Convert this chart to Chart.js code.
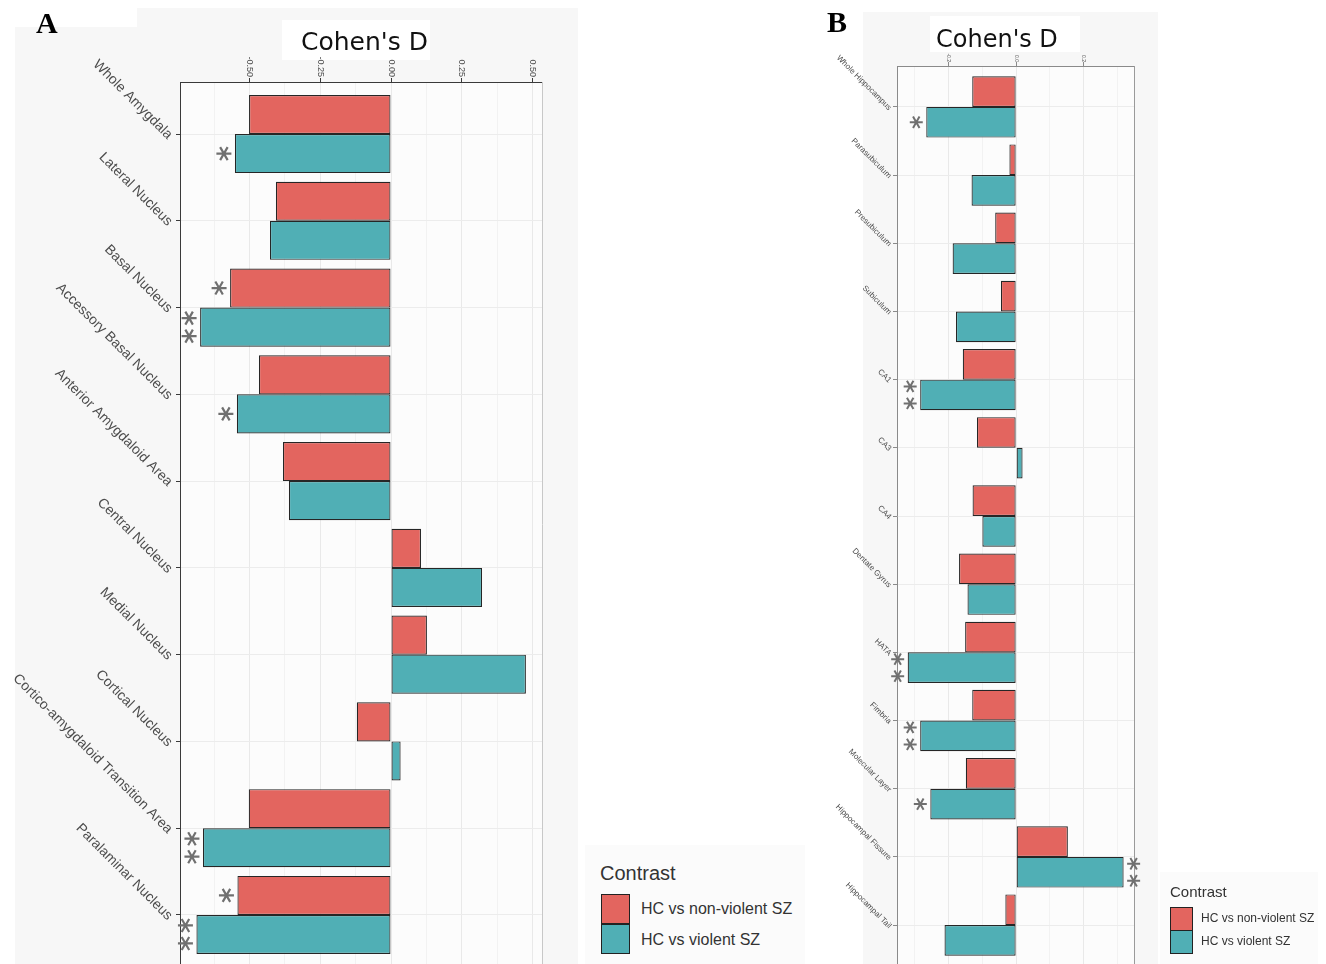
<!DOCTYPE html>
<html><head><meta charset="utf-8">
<script src="https://cdn.jsdelivr.net/npm/chart.js@4.4.0/dist/chart.umd.min.js"></script>
<style>
html,body{margin:0;padding:0;background:#fff;width:1326px;height:964px;overflow:hidden;position:relative;font-family:'Liberation Sans',Arial,sans-serif}
.abs{position:absolute}
.title{font-family:'DejaVu Sans',sans-serif;color:#111;white-space:nowrap}
.letter{font-family:'Liberation Serif','Times New Roman',serif;font-weight:bold;color:#000}
.key{position:absolute;box-sizing:border-box;border:1.5px solid #222}
.lt{position:absolute;color:#333;white-space:nowrap}
</style></head><body>
<!-- panel backgrounds -->
<div class="abs" style="left:137px;top:8px;width:441px;height:956px;background:#f7f7f7"></div>
<div class="abs" style="left:15px;top:27px;width:122px;height:937px;background:#f7f7f7"></div>
<div class="abs" style="left:282px;top:20px;width:148px;height:40px;background:#fff"></div>
<div class="abs" style="left:863px;top:12px;width:295px;height:952px;background:#f7f7f7"></div>
<div class="abs" style="left:930px;top:16px;width:150px;height:36px;background:#fff"></div>
<div class="abs" style="left:585px;top:845px;width:220px;height:119px;background:#fbfbfb"></div>
<div class="abs" style="left:1160px;top:872px;width:158px;height:92px;background:#fbfbfb"></div>

<canvas id="cA" class="abs" style="left:0;top:0" width="580" height="975"></canvas>
<canvas id="cB" class="abs" style="left:820px;top:0" width="506" height="975"></canvas>

<div class="abs letter" style="left:36px;top:6px;font-size:30px;line-height:34px">A</div>
<div class="abs letter" style="left:827px;top:5px;font-size:30px;line-height:34px">B</div>
<div class="abs title" style="left:301px;top:27px;font-size:25px;line-height:30px">Cohen's D</div>
<div class="abs title" style="left:936px;top:24px;font-size:24px;line-height:30px">Cohen's D</div>

<!-- legend A -->
<div class="lt" style="left:600px;top:861px;font-size:20px;line-height:24px">Contrast</div>
<div class="key" style="left:601px;top:894px;width:29px;height:30px;background:#e3655f"></div>
<div class="key" style="left:601px;top:924px;width:29px;height:30px;background:#50afb5"></div>
<div class="lt" style="left:641px;top:899px;font-size:16px;line-height:20px">HC vs non-violent SZ</div>
<div class="lt" style="left:641px;top:930px;font-size:16px;line-height:20px">HC vs violent SZ</div>
<!-- legend B -->
<div class="lt" style="left:1170px;top:883px;font-size:15px;line-height:18px">Contrast</div>
<div class="key" style="left:1170px;top:907px;width:23px;height:24px;background:#e3655f"></div>
<div class="key" style="left:1170px;top:930px;width:23px;height:24px;background:#50afb5"></div>
<div class="lt" style="left:1201px;top:911px;font-size:12px;line-height:15px">HC vs non-violent SZ</div>
<div class="lt" style="left:1201px;top:934px;font-size:12px;line-height:15px">HC vs violent SZ</div>

<script>
// ---------- DATA ----------
const SERIES_NAMES = ['HC vs non-violent SZ', 'HC vs violent SZ'];

const A_CATEGORIES = ['Whole Amygdala','Lateral Nucleus','Basal Nucleus','Accessory Basal Nucleus',
  'Anterior Amygdaloid Area','Central Nucleus','Medial Nucleus','Cortical Nucleus',
  'Cortico-amygdaloid Transition Area','Paralaminar Nucleus'];
const A_NONVIOLENT = [-0.502,-0.407,-0.569,-0.467,-0.382,0.106,0.127,-0.121,-0.503,-0.543];
const A_VIOLENT    = [-0.552,-0.428,-0.675,-0.545,-0.361,0.322,0.477,0.034,-0.665,-0.688];
const A_SIG_NONVIOLENT = [0,0,1,0,0,0,0,0,0,1];
const A_SIG_VIOLENT    = [1,0,2,1,0,0,0,0,2,2];
const A_XTICKS = [-0.5,-0.25,0,0.25,0.5];
const A_XTICK_LABELS = ['-0.50','-0.25','0.00','0.25','0.50'];
const A_XMINOR = [-0.625,-0.375,-0.125,0.125,0.375];

const B_CATEGORIES = ['Whole Hippocampus','Parasubiculum','Presubiculum','Subiculum','CA1','CA3','CA4',
  'Dentate Gyrus','HATA','Fimbria','Molecular Layer','Hippocampal Fissure','Hippocampal Tail'];
const B_NONVIOLENT = [-0.130,-0.020,-0.062,-0.045,-0.158,-0.116,-0.129,-0.169,-0.151,-0.130,-0.149,0.153,-0.032];
const B_VIOLENT    = [-0.266,-0.132,-0.188,-0.178,-0.284,0.019,-0.100,-0.144,-0.321,-0.284,-0.254,0.318,-0.212];
const B_SIG_NONVIOLENT = [0,0,0,0,0,0,0,0,0,0,0,0,0];
const B_SIG_VIOLENT    = [1,0,0,0,2,0,0,0,2,2,1,2,0];
const B_XTICKS = [-0.2,0,0.2];
const B_XTICK_LABELS = ['-0.2','0.0','0.2'];
const B_XMINOR = [-0.3,-0.1,0.1,0.3];

const RED = '#e3655f', TEAL = '#50afb5';

// ---------- CHART FACTORY ----------
function star(ctx, x, y, r){
  ctx.beginPath();
  for (const a of [0, Math.PI/3, 2*Math.PI/3]){
    ctx.moveTo(x - r*Math.cos(a), y - r*Math.sin(a));
    ctx.lineTo(x + r*Math.cos(a), y + r*Math.sin(a));
  }
  ctx.stroke();
}

function makeChart(id, cfg){
  const isMajor = v => cfg.xticks.some(t => Math.abs(t - v) < 1e-9);
  const deco = {
    id: 'deco'+id,
    beforeDraw(chart){
      const {ctx, chartArea:a} = chart;
      ctx.save();
      ctx.fillStyle = '#fcfcfc';
      ctx.fillRect(a.left, a.top, a.right-a.left, a.bottom-a.top);
      ctx.restore();
    },
    afterDraw(chart){
      const {ctx, chartArea:a} = chart;
      const xs = chart.scales.x, ys = chart.scales.y;
      ctx.save();
      ctx.strokeStyle = cfg.frameColor; ctx.lineWidth = 1;
      ctx.beginPath(); ctx.moveTo(Math.round(a.right)+0.5, a.top); ctx.lineTo(Math.round(a.right)+0.5, a.bottom); ctx.stroke();
      // category labels (rotated 45deg)
      ctx.fillStyle = '#4d4d4d';
      ctx.font = cfg.catFont;
      ctx.textAlign = 'right'; ctx.textBaseline = 'middle';
      cfg.cats.forEach((c,i)=>{
        const y = ys.getPixelForValue(i);
        ctx.save();
        ctx.translate(a.left - cfg.catOff, y + cfg.catDy);
        ctx.rotate(Math.PI/4);
        ctx.fillText(c, 0, 0);
        ctx.restore();
      });
      // x tick labels rotated 90deg
      ctx.font = cfg.tickFont;
      ctx.fillStyle = '#4d4d4d';
      cfg.xticks.forEach((v,i)=>{
        const x = xs.getPixelForValue(v);
        ctx.save();
        ctx.translate(x, a.top - cfg.tickOff);
        ctx.rotate(Math.PI/2);
        ctx.textAlign = 'right'; ctx.textBaseline = 'middle';
        ctx.fillText(cfg.xlabels[i], 0, 0);
        ctx.restore();
      });
      // significance stars
      ctx.strokeStyle = '#707070'; ctx.lineWidth = cfg.starW;
      [cfg.sig0, cfg.sig1].forEach((sig, ds)=>{
        const meta = chart.getDatasetMeta(ds);
        sig.forEach((n, i)=>{
          if (!n) return;
          const el = meta.data[i];
          const val = cfg.series[ds][i];
          const cx = val < 0 ? el.x - cfg.starOff : el.x + cfg.starOff;
          if (n === 1) star(ctx, cx, el.y, cfg.starR);
          else { star(ctx, cx, el.y - cfg.starSep, cfg.starR); star(ctx, cx, el.y + cfg.starSep, cfg.starR); }
        });
      });
      ctx.restore();
    }
  };
  return new Chart(document.getElementById(id), {
    type: 'bar',
    data: {
      datasets: [
        {label: SERIES_NAMES[0], data: cfg.series[0].map((v,i)=>({x:v, y:i})),
         backgroundColor: RED, borderColor: '#262626', borderWidth: 1.2, borderSkipped: false},
        {label: SERIES_NAMES[1], data: cfg.series[1].map((v,i)=>({x:v, y:i})),
         backgroundColor: TEAL, borderColor: '#262626', borderWidth: 1.2, borderSkipped: false}
      ]
    },
    options: {
      indexAxis: 'y',
      responsive: false, animation: false,
      layout: {padding: cfg.padding},
      datasets: {bar: {categoryPercentage: 0.9, barPercentage: 1}},
      plugins: {legend: {display: false}, tooltip: {enabled: false}},
      scales: {
        x: {
          type: 'linear', position: 'top', min: cfg.xmin, max: cfg.xmax, offset: false,
          afterBuildTicks: s => { s.ticks = cfg.xticks.concat(cfg.xminor).sort((p,q)=>p-q).map(v=>({value:v})); },
          ticks: {display: false},
          grid: {
            offset: false,
            color: c => isMajor(c.tick.value) ? '#e9e9e9' : '#f2f2f2',
            tickColor: c => isMajor(c.tick.value) ? cfg.axisColor : 'rgba(0,0,0,0)',
            tickLength: 4, lineWidth: 1
          },
          border: {display: true, color: cfg.axisColor, width: 1},
          afterFit: s => { s.height = cfg.top; }
        },
        y: {
          type: 'linear', reverse: true, min: -0.6, max: cfg.cats.length - 0.4, offset: false,
          afterBuildTicks: s => { s.ticks = cfg.cats.map((c,i)=>({value:i})); },
          ticks: {display: false},
          grid: {offset: false, color: '#ececec', tickColor: cfg.axisColor, tickLength: 4, lineWidth: 1},
          border: {display: true, color: cfg.axisColor, width: 1},
          afterFit: s => { s.width = cfg.left; }
        }
      }
    },
    plugins: [deco]
  });
}

makeChart('cA', {
  cats: A_CATEGORIES, series: [A_NONVIOLENT, A_VIOLENT], sig0: A_SIG_NONVIOLENT, sig1: A_SIG_VIOLENT,
  xticks: A_XTICKS, xlabels: A_XTICK_LABELS, xminor: A_XMINOR,
  xmin: -0.7461, xmax: 0.5339, left: 180, top: 82, padding: {left:0, top:0, right:38, bottom:8},
  axisColor: '#3a3a3a', frameColor: '#c8c8c8',
  catFont: '14px "Liberation Sans", Arial, sans-serif', catOff: 10, catDy: 3,
  tickFont: '9px "Liberation Sans", Arial, sans-serif', tickOff: 5,
  starR: 7.5, starW: 2.2, starOff: 11, starSep: 9
});

makeChart('cB', {
  cats: B_CATEGORIES, series: [B_NONVIOLENT, B_VIOLENT], sig0: B_SIG_NONVIOLENT, sig1: B_SIG_VIOLENT,
  xticks: B_XTICKS, xlabels: B_XTICK_LABELS, xminor: B_XMINOR,
  xmin: -0.3526, xmax: 0.3487, left: 77, top: 66, padding: {left:0, top:0, right:192, bottom:9},
  axisColor: '#8a8a8a', frameColor: '#9a9a9a',
  catFont: '8px "Liberation Sans", Arial, sans-serif', catOff: 7, catDy: 2,
  tickFont: '5px "Liberation Sans", Arial, sans-serif', tickOff: 4,
  starR: 6.5, starW: 2, starOff: 10, starSep: 8.5
});
</script>
</body></html>
